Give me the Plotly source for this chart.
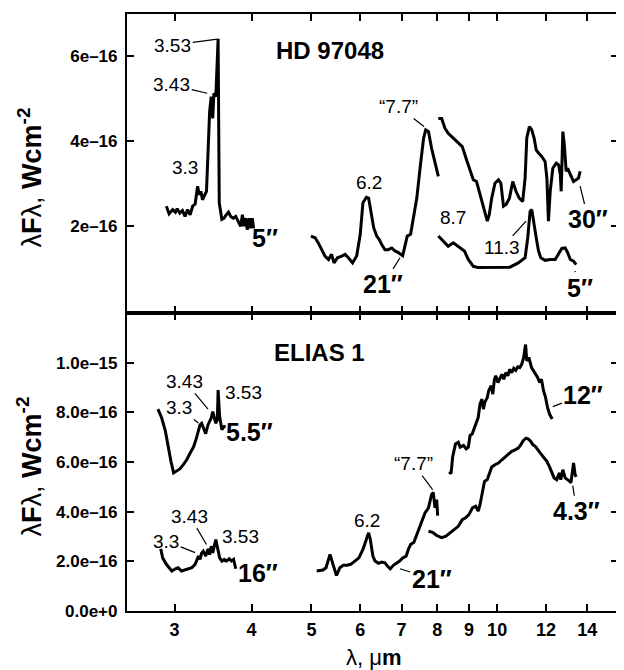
import numpy as np
import plotly.graph_objects as go

UNIT = 1e-16  # values below are in units of 1e-16 W cm^-2

# ---------------- HD 97048 (top panel) ----------------
hd_5in_3um_wl = [2.91, 2.94, 2.98, 3.01, 3.03, 3.06, 3.09, 3.12, 3.15, 3.18, 3.21, 3.24, 3.27, 3.29,
                 3.31, 3.33, 3.36, 3.38, 3.395, 3.41, 3.42, 3.44, 3.46, 3.475, 3.50, 3.53, 3.545, 3.58,
                 3.61, 3.64, 3.67, 3.70, 3.735, 3.77, 3.80, 3.84, 3.865, 3.885, 3.915, 3.935, 3.965,
                 3.985, 4.01, 4.03]
hd_5in_3um_f = [2.47, 2.29, 2.39, 2.33, 2.41, 2.31, 2.37, 2.23, 2.39, 2.27, 2.47, 2.52, 2.94, 2.74,
                2.82, 2.62, 2.74, 2.82, 3.52, 4.22, 4.69, 5.04, 4.53, 5.12, 5.04, 6.40, 2.55, 2.16,
                2.19, 2.27, 2.33, 2.23, 2.19, 2.23, 2.12, 2.00, 2.27, 2.00, 2.19, 1.92, 2.19, 1.95,
                2.19, 1.95]

hd_21in_wl = [4.99, 5.07, 5.13, 5.20, 5.26, 5.33, 5.39, 5.44, 5.51, 5.60, 5.67, 5.74, 5.83, 5.92, 6.00,
              6.06, 6.14, 6.19, 6.24, 6.31, 6.38, 6.44, 6.50, 6.58, 6.66, 6.75, 6.83, 6.92, 7.03, 7.09,
              7.15, 7.24, 7.32, 7.41, 7.50, 7.60, 7.66, 7.74, 7.83, 7.93, 8.03]
hd_21in_f = [1.77, 1.73, 1.61, 1.42, 1.30, 1.22, 1.34, 1.14, 1.26, 1.30, 1.34, 1.26, 1.14, 1.30, 1.81,
             2.55, 2.68, 2.66, 2.35, 1.96, 1.77, 1.69, 1.57, 1.45, 1.45, 1.49, 1.42, 1.38, 1.31, 1.57,
             1.77, 1.81, 2.19, 2.66, 3.36, 4.07, 4.26, 4.22, 3.83, 3.48, 3.17]

hd_30in_wl = [8.03, 8.13, 8.23, 8.33, 8.49, 8.65, 8.78, 8.92, 9.06, 9.15, 9.26, 9.38, 9.52, 9.64, 9.71,
              9.80, 9.92, 10.05, 10.14, 10.24, 10.34, 10.47, 10.60, 10.73, 10.86, 11.00, 11.10, 11.17,
              11.28, 11.38, 11.48, 11.57, 11.67, 11.81, 11.96, 12.04, 12.11, 12.19, 12.31, 12.47,
              12.58, 12.66, 12.70, 12.78, 12.85, 12.94, 13.01, 13.07, 13.17, 13.30, 13.43, 13.55, 13.63]
hd_30in_f = [4.53, 4.53, 4.30, 4.18, 4.07, 3.95, 3.87, 3.56, 3.25, 3.09, 3.05, 2.74, 2.43, 2.12, 2.27,
             2.66, 3.01, 3.09, 3.01, 2.47, 2.51, 2.66, 3.05, 2.82, 2.66, 2.58, 3.13, 4.07,
             4.34, 4.26, 4.07, 3.79, 3.72, 3.64, 3.52, 3.13, 2.12, 2.82, 3.36, 3.48,
             3.44, 3.21, 2.82, 4.22, 3.91, 3.29, 3.36, 3.29, 3.17, 3.05, 3.09, 3.13, 3.29]

hd_5in_10um_wl = [8.03, 8.18, 8.33, 8.49, 8.65, 8.85, 8.98, 9.15, 9.32, 9.62, 9.98, 10.49, 10.82, 11.10,
                  11.21, 11.31, 11.38, 11.45, 11.57, 11.67, 11.77, 11.96, 12.19, 12.42, 12.58, 12.73,
                  12.89, 13.01, 13.14, 13.30, 13.43]
hd_5in_10um_f = [1.77, 1.65, 1.53, 1.61, 1.53, 1.42, 1.22, 1.06, 1.03, 1.03, 1.03, 1.04, 1.14, 1.26,
                 1.73, 2.35, 2.39, 2.12, 1.73, 1.42, 1.26, 1.20, 1.22, 1.22, 1.34, 1.48,
                 1.49, 1.38, 1.22, 1.18, 1.10]

# ---------------- ELIAS 1 (bottom panel) ----------------
el_55in_wl = [2.82, 2.86, 2.90, 2.93, 2.96, 2.99, 3.02, 3.06, 3.10, 3.14, 3.18, 3.22, 3.25, 3.28, 3.30,
              3.32, 3.35, 3.37, 3.40, 3.42, 3.44, 3.46, 3.49, 3.50, 3.52, 3.53, 3.55, 3.56, 3.58,
              3.61, 3.63]
el_55in_f = [8.13, 7.77, 7.23, 6.56, 6.03, 5.56, 5.62, 5.72, 5.89, 6.09, 6.36, 6.60, 6.90, 7.30, 7.50,
             7.56, 7.30, 7.14, 7.50, 7.63, 7.77, 8.03, 7.63, 7.56, 7.70, 8.90, 7.83, 7.63, 7.30,
             7.43, 7.43]

el_16in_wl = [2.85, 2.87, 2.91, 2.94, 2.97, 3.01, 3.04, 3.08, 3.12, 3.16, 3.20, 3.24, 3.28, 3.30, 3.32,
              3.34, 3.37, 3.40, 3.42, 3.44, 3.46, 3.50, 3.55, 3.58, 3.61, 3.64, 3.68, 3.71, 3.74, 3.77]
el_16in_f = [2.50, 2.14, 1.88, 1.74, 1.61, 1.70, 1.74, 1.61, 1.65, 1.67, 1.74, 1.88, 2.21, 2.08, 2.34,
             2.41, 2.21, 2.50, 2.27, 2.61, 2.34, 2.88, 2.14, 2.01, 2.08, 2.01, 2.10, 2.01, 2.08, 1.70]

el_21in_wl = [5.10, 5.22, 5.28, 5.36, 5.42, 5.49, 5.56, 5.63, 5.71, 5.79, 5.88, 5.97, 6.06, 6.14, 6.19,
              6.23, 6.29, 6.34, 6.42, 6.50, 6.58, 6.64, 6.71, 6.79, 6.88, 6.95, 7.03, 7.12, 7.18, 7.24,
              7.33, 7.41, 7.48, 7.58, 7.64, 7.74, 7.80, 7.83, 7.88, 7.93, 7.98, 8.01]
el_21in_f = [1.61, 1.65, 1.74, 2.28, 1.88, 1.43, 1.74, 1.84, 1.84, 1.88, 2.01, 2.14, 2.48, 2.88, 3.15,
             2.88, 2.21, 2.01, 1.92, 1.97, 1.94, 1.81, 1.70, 1.84, 1.92, 2.01, 2.14, 2.21, 2.48, 2.68,
             2.77, 3.08, 3.28, 3.68, 3.95, 4.15, 4.49, 4.69, 4.78, 4.15, 4.49, 3.84]

el_43in_wl = [7.74, 7.86, 7.98, 8.13, 8.26, 8.39, 8.52, 8.65, 8.78, 8.89, 9.00, 9.12, 9.23, 9.32, 9.38,
              9.46, 9.54, 9.64, 9.71, 9.80, 9.92, 10.05, 10.18, 10.30, 10.43, 10.56, 10.69, 10.82,
              10.92, 11.03, 11.14, 11.24, 11.34, 11.43, 11.53, 11.63, 11.71, 11.81, 11.92, 12.04,
              12.15, 12.26, 12.37, 12.49, 12.62, 12.68, 12.78, 12.89, 13.01, 13.11, 13.17, 13.24,
              13.30, 13.38, 13.43]
el_43in_f = [3.21, 3.17, 3.04, 2.95, 3.01, 3.15, 3.28, 3.41, 3.68, 3.75, 3.88, 4.15, 4.22, 4.02, 4.28,
             4.75, 5.22, 5.29, 5.56, 5.80, 5.89, 5.96, 6.09, 6.20, 6.29, 6.43, 6.49, 6.56,
             6.69, 6.87, 6.96, 6.92, 6.83, 6.69, 6.63, 6.49, 6.39, 6.29, 6.16, 6.03,
             5.82, 5.56, 5.36, 5.29, 5.56, 5.29, 5.69, 5.36, 5.29, 5.22, 5.16, 5.56,
             5.96, 5.49, 5.40]

el_12in_wl = [8.36, 8.42, 8.47, 8.56, 8.65, 8.71, 8.82, 8.91, 8.98, 9.04, 9.11, 9.18, 9.25, 9.32, 9.38,
              9.45, 9.50, 9.55, 9.64, 9.69, 9.78, 9.84, 9.90, 9.95, 10.03, 10.10, 10.18, 10.25, 10.33,
              10.41, 10.48, 10.56, 10.64, 10.72, 10.80, 10.88, 10.96, 11.04, 11.12, 11.17, 11.26,
              11.37, 11.51, 11.63, 11.72, 11.80, 11.89, 11.98, 12.07, 12.16, 12.28]
el_12in_f = [5.60, 5.53, 6.20, 6.73, 6.80, 6.60, 6.67, 6.53, 6.60, 7.07, 7.13, 7.33, 7.53, 7.80, 8.33,
             8.53, 8.13, 8.40, 8.60, 8.87, 9.07, 8.73, 9.33, 9.47, 9.20, 9.33, 9.53, 9.33, 9.60,
             9.47, 9.73, 9.60, 9.77, 9.69, 9.83, 9.80, 9.93, 10.20, 10.73, 10.07, 10.20,
             9.80, 9.60, 9.40, 9.20, 9.33, 8.87, 8.60, 8.20, 7.93, 7.73]

x_tickvals = [3, 4, 5, 6, 7, 8, 9, 10, 12, 14]
x_ticktext = ["3", "4", "5", "6", "7", "8", "9", "10", "12", "14"]
top_yticks = [2, 4, 6]
top_ytext = ["2e\u201316", "4e\u201316", "6e\u201316"]
bot_yticks = [0, 2, 4, 6, 8, 10]
bot_ytext = ["0.0e+0", "2.0e\u201316", "4.0e\u201316", "6.0e\u201316", "8.0e\u201316", "1.0e\u201315"]

FONT = "Liberation Sans, Arial, Helvetica, sans-serif"
LW = 3

fig = go.Figure()
top = [(hd_5in_3um_wl, hd_5in_3um_f), (hd_21in_wl, hd_21in_f),
       (hd_30in_wl, hd_30in_f), (hd_5in_10um_wl, hd_5in_10um_f)]
bot = [(el_55in_wl, el_55in_f), (el_16in_wl, el_16in_f), (el_21in_wl, el_21in_f),
       (el_43in_wl, el_43in_f), (el_12in_wl, el_12in_f)]
for wl, f in top:
    fig.add_trace(go.Scatter(x=wl, y=np.array(f) * UNIT, mode="lines", xaxis="x", yaxis="y",
                             line=dict(color="black", width=LW), showlegend=False, hoverinfo="skip"))
for wl, f in bot:
    fig.add_trace(go.Scatter(x=wl, y=np.array(f) * UNIT, mode="lines", xaxis="x2", yaxis="y2",
                             line=dict(color="black", width=LW), showlegend=False, hoverinfo="skip"))

XR = [0.4001, 1.1959]
common_x = dict(type="log", range=XR, tickvals=x_tickvals, ticktext=x_ticktext, ticks="inside",
                ticklen=7, tickwidth=1.5, tickcolor="black", showline=True, linewidth=2.2,
                linecolor="black", mirror="ticks", showgrid=False, zeroline=False,
                tickfont=dict(family=FONT, size=18, color="black", weight="bold"))
common_y = dict(ticks="inside", ticklen=7, tickwidth=1.5, tickcolor="black", showline=True,
                linewidth=2.2, linecolor="black", mirror="ticks", showgrid=False, zeroline=False,
                tickfont=dict(family=FONT, size=17, color="black", weight="bold"),
                ticklabelstandoff=4)

# page body has an 8px margin: figure is 616x662 so the plot area lands at x 127-618, y 12-611
SPLIT = 0.4992
fig.update_layout(
    width=616, height=662,
    margin=dict(l=119, r=6, t=4, b=59),
    paper_bgcolor="white", plot_bgcolor="white",
    xaxis=dict(common_x, domain=[0, 1], anchor="y", showticklabels=False),
    yaxis=dict(common_y, domain=[SPLIT, 1], anchor="x", range=[-0.035 * UNIT, 6.98 * UNIT],
               tickvals=[v * UNIT for v in top_yticks], ticktext=top_ytext),
    xaxis2=dict(common_x, domain=[0, 1], anchor="y2", showticklabels=True, ticklabelstandoff=1),
    yaxis2=dict(common_y, domain=[0, SPLIT], anchor="x2", range=[0, 12.0 * UNIT],
                tickvals=[v * UNIT for v in bot_yticks], ticktext=bot_ytext),
)

ann = []
SMALL = dict(family=FONT, size=19, color="black")
BIG = dict(family=FONT, size=25, color="black", weight="bold")
TITLE = dict(family=FONT, size=24, color="black", weight="bold")


def lead(text, wl, f, ax, ay, panel, font=SMALL):
    xr, yr = ("x", "y") if panel == 0 else ("x2", "y2")
    ann.append(dict(text=text, x=np.log10(wl), y=f * UNIT, xref=xr, yref=yr, ax=ax, ay=ay,
                    showarrow=True, arrowhead=0, arrowwidth=1.2, arrowcolor="black", standoff=0,
                    font=font))


def lab(text, xp, yp, font=SMALL):
    ann.append(dict(text=text, x=xp, y=yp, xref="paper", yref="paper", showarrow=False,
                    xanchor="center", yanchor="middle", font=font))


# top panel labels
lead("3.53", 3.52, 6.39, -44.6, 6.0, 0)
lead("3.43", 3.39, 5.12, -35.6, -8.4, 0)
lead("\u201c7.7\u201d", 7.61, 4.34, -25.7, -20.0, 0)
lead("21\u2033", 6.96, 1.26, -16.7, 26.6, 0, BIG)
lead("11.3", 11.14, 2.12, -24.3, 26.7, 0)
lead("30\u2033", 13.63, 2.94, 8.3, 33.3, 0, BIG)
lead("5\u2033", 13.37, 0.95, 5.0, 16.7, 0, BIG)
lab("3.3", 0.1181, 0.7424)
lab("5\u2033", 0.2811, 0.6249, BIG)
lab("HD 97048", 0.4126, 0.9394, TITLE)
lab("6.2", 0.4935, 0.7184)
lab("8.7", 0.6646, 0.6583)

# bottom panel labels
lead("3.43", 3.40, 8.13, -23.3, -27.6, 1)
lead("3.3", 3.28, 7.57, -19.0, -15.0, 1)
lead("3.43", 3.38, 2.68, -16.7, -28.3, 1)
lead("3.3", 3.24, 2.35, -29.0, -11.6, 1)
lead("21\u2033", 6.96, 1.70, 31.7, 10.0, 1, BIG)
lead("\u201c7.7\u201d", 7.86, 4.89, -19.4, -26.0, 1)
lead("12\u2033", 12.31, 8.23, 30.6, -11.7, 1, BIG)
lead("4.3\u2033", 13.26, 5.05, 4.0, 25.7, 1, BIG)
lab("ELIAS 1", 0.3923, 0.4329, TITLE)
lab("3.53", 0.2369, 0.3661)
lab("5.5\u2033", 0.2505, 0.2993, BIG)
lab("3.53", 0.2316, 0.1252)
lab("16\u2033", 0.2674, 0.0629, BIG)
lab("6.2", 0.4894, 0.1508)

# axis titles
YT = "\u03bb<b>F</b>\u03bb, <b>Wcm<sup>-2</sup></b>"
for yp in (0.7262, 0.2421):
    ann.append(dict(text=YT, x=-0.1976, y=yp, xref="paper", yref="paper", showarrow=False,
                    textangle=-90, xanchor="center", yanchor="middle",
                    font=dict(family=FONT, size=27, color="black")))
ann.append(dict(text="\u03bb, \u03bc<b>m</b>", x=0.5016, y=-0.0785, xref="paper", yref="paper",
                showarrow=False, xanchor="center", yanchor="middle",
                font=dict(family=FONT, size=22, color="black")))

fig.update_layout(annotations=ann)
fig.write_html("out.html")
